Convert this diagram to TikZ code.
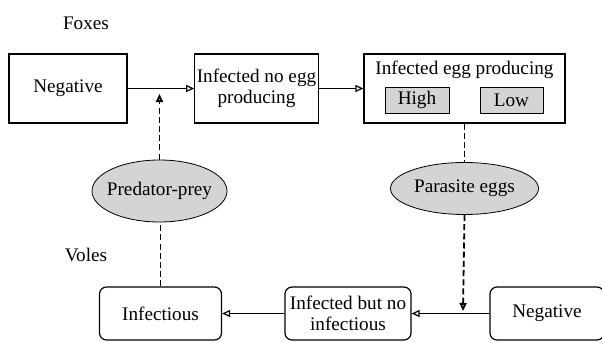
\documentclass[tikz,border=0pt]{standalone}
\usepackage{fontspec}
\setmainfont{Liberation Serif}
\usepackage{tikz}
\usetikzlibrary{shapes.geometric,arrows.meta}
\definecolor{stipple}{RGB}{212,212,212}

\begin{document}
\begin{tikzpicture}[x=0.5pt,y=-0.5pt,
  font=\fontsize{9.6}{10.8}\selectfont,
  box/.style={draw, semithick, minimum height=34.5pt, align=center, inner sep=1pt},
  rbox/.style={draw, semithick, rounded corners=3.5pt, minimum height=26.5pt, align=center, inner sep=1pt},
  level/.style={draw, fill=stipple, minimum height=13pt, inner sep=0pt},
  bubble/.style={ellipse, draw, fill=stipple, inner xsep=-3pt, inner ysep=0pt},
  flow/.style={semithick, -{Triangle[open, length=4pt, width=3.5pt]}},
  link/.style={line width=0.9pt, dash pattern=on 3pt off 1.6pt},
  linkto/.style={link, -{Triangle[open, length=4pt, width=3.5pt]}}]
\useasboundingbox (0,0) rectangle (602,343);
\clip (0,0) rectangle (602,343);

% Foxes
\node (foxes) at (86,23) {Foxes};
\node[box, minimum width=59pt] (fneg) at (68,88.5) {Negative};
\node[box, minimum width=61.5pt] (noegg) at (256.5,88.5) {Infected no egg\\producing};
\node[box, minimum width=100.5pt] (eggprod) at (464.5,88.5) {};
\node[anchor=north, inner sep=0pt] (eggtitle) at (464.5,61) {Infected egg producing};
\node[level, minimum width=32pt] (high) at (417,100) {High};
\node[level, minimum width=31.5pt] (low) at (511.5,100) {Low};
\draw[flow] (fneg) -- (noegg);
\draw[flow] (noegg) -- (eggprod);

% links between the two hosts
\node[bubble, minimum width=67.5pt, minimum height=31pt] (predprey) at (159.5,191) {Predator-prey};
\node[bubble, minimum width=74pt, minimum height=26pt] (eggs) at (464.5,188.5) {Parasite eggs};
\coordinate (hitfox) at (159.5,94);
\coordinate (hitvole) at (463,311);

% Voles
\node (voles) at (86,255) {Voles};
\node[rbox, minimum width=61pt] (infectious) at (160.5,313.5) {Infectious};
\node[rbox, minimum width=63pt] (infnot) at (348,313.5) {Infected but no\\infectious};
\node[rbox, minimum width=57pt] (vneg) at (547,313.5) {Negative};
\draw[flow] (vneg) -- (infnot);
\draw[flow] (infnot) -- (infectious);

\draw[linkto] (predprey.north) -- (hitfox);
\draw[link] (infectious.north) -- (infectious.north |- predprey.south);
\draw[link] (eggprod.south) -- (eggprod.south |- eggs.north);
\draw[linkto] (eggs.south) -- (hitvole);
\end{tikzpicture}
\end{document}
